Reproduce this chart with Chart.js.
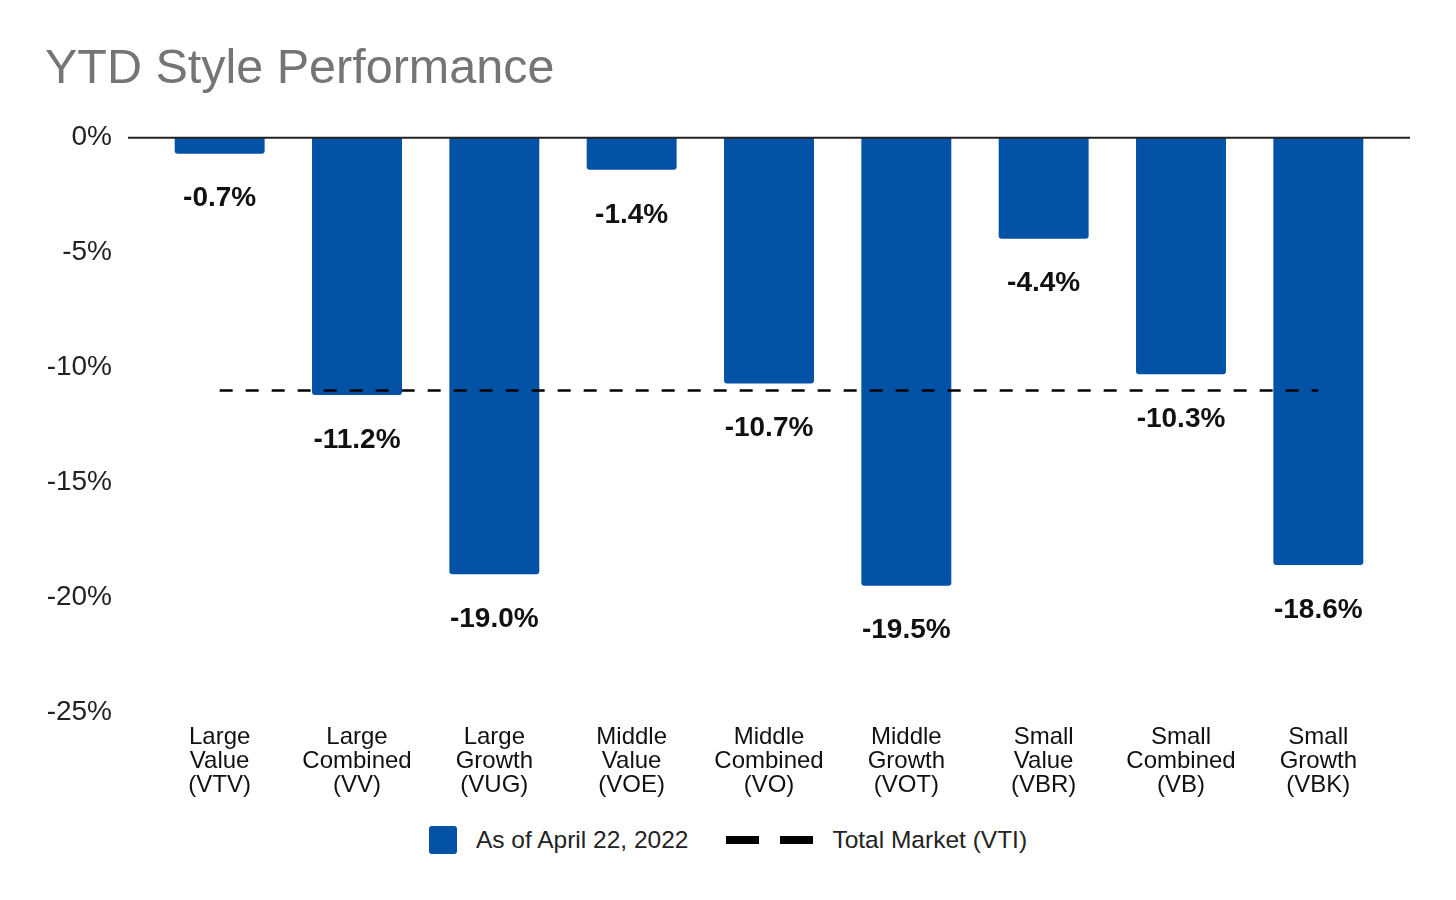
<html><head><title>YTD Style Performance</title>
<style>
    body {
        margin: 0;
        background: #fff;
        font-family: "Liberation Sans", Arial, sans-serif;
    }
    .wrap {
        position: relative;
        width: 1456px;
        height: 900px;
    }
    .chart-box {
        position: absolute;
        left: 0;
        top: 0;
        width: 1456px;
        height: 810px;
    }
    .legend {
        position: absolute;
        left: 0;
        top: 820px;
        width: 1456px;
        height: 40px;
        display: flex;
        justify-content: center;
        align-items: center;
        font-size: 24.5px;
        color: #222;
    }
    .legend .box {
        width: 28px;
        height: 28px;
        border-radius: 3px;
        background: #0452a5;
        margin-right: 19px;
    }
    .legend .dash {
        width: 33px;
        height: 8px;
        background: #000;
    }
</style>
<script src="https://cdn.jsdelivr.net/npm/chart.js"></script>
</head>
<body>
<div class="wrap">
    <div class="chart-box"><canvas id="styleChart"></canvas></div>
    <div class="legend">
        <span class="box"></span>
        <span id="barLegend"></span>
        <span class="dash" style="margin-left:38px"></span>
        <span class="dash" style="margin-left:21px;margin-right:19px"></span>
        <span id="lineLegend"></span>
    </div>
</div>

<script>
// data
const categories = [
    ['Large', 'Value', '(VTV)'],
    ['Large', 'Combined', '(VV)'],
    ['Large', 'Growth', '(VUG)'],
    ['Middle', 'Value', '(VOE)'],
    ['Middle', 'Combined', '(VO)'],
    ['Middle', 'Growth', '(VOT)'],
    ['Small', 'Value', '(VBR)'],
    ['Small', 'Combined', '(VB)'],
    ['Small', 'Growth', '(VBK)']
];
const ytdReturns = [-0.7, -11.2, -19.0, -1.4, -10.7, -19.5, -4.4, -10.3, -18.6];
const totalMarket = [-11.0, -11.0, -11.0, -11.0, -11.0, -11.0, -11.0, -11.0, -11.0];
const yTicks = [0, -5, -10, -15, -20, -25];
const barName = 'As of April 22, 2022';
const lineName = 'Total Market (VTI)';

document.getElementById('barLegend').textContent = barName;
document.getElementById('lineLegend').textContent = lineName;

const FONT = '"Liberation Sans", Arial, sans-serif';

// zero line, a little wider than the plot area
const zeroLine = {
    id: 'zeroLine',
    afterDatasetsDraw(chart) {
        const ctx = chart.ctx;
        const y = chart.scales.y.getPixelForValue(0);
        ctx.save();
        ctx.strokeStyle = '#222';
        ctx.lineWidth = 2;
        ctx.beginPath();
        ctx.moveTo(chart.chartArea.left - 23, y);
        ctx.lineTo(chart.chartArea.right + 23, y);
        ctx.stroke();
        ctx.restore();
    }
};

// value labels under each bar (bars are dataset 1)
const barLabels = {
    id: 'barLabels',
    afterDatasetsDraw(chart) {
        const ctx = chart.ctx;
        const meta = chart.getDatasetMeta(1);
        ctx.save();
        ctx.font = 'bold 28px ' + FONT;
        ctx.fillStyle = '#111';
        ctx.textAlign = 'center';
        ctx.textBaseline = 'middle';
        meta.data.forEach((bar, i) => {
            ctx.fillText(ytdReturns[i].toFixed(1) + '%', bar.x, bar.y + 45);
        });
        ctx.restore();
    }
};

new Chart(document.getElementById('styleChart'), {
    data: {
        labels: categories,
        datasets: [{
            type: 'line',
            label: lineName,
            data: totalMarket,
            borderColor: '#000',
            borderWidth: 2.5,
            borderDash: [13, 13],
            pointRadius: 0,
            fill: false,
            order: 0
        }, {
            type: 'bar',
            label: barName,
            data: ytdReturns,
            backgroundColor: '#0452a5',
            borderRadius: 3,
            categoryPercentage: 1,
            barPercentage: 0.655,
            order: 1
        }]
    },
    options: {
        responsive: true,
        maintainAspectRatio: false,
        animation: false,
        layout: {
            padding: { left: 45, right: 69, top: 0, bottom: 0 }
        },
        scales: {
            x: {
                offset: true,
                grid: { display: false, drawTicks: false },
                border: { display: false },
                ticks: {
                    color: '#111',
                    font: { family: FONT, size: 24, lineHeight: 1.0 },
                    padding: 13,
                    maxRotation: 0,
                    autoSkip: false
                },
                afterFit: (scale) => { scale.height = 98; }
            },
            y: {
                min: -25,
                max: 0,
                grid: { display: false, drawTicks: false },
                border: { display: false },
                afterBuildTicks: (scale) => { scale.ticks = yTicks.map(v => ({ value: v })); },
                ticks: {
                    color: '#222',
                    font: { family: FONT, size: 28 },
                    padding: 39,
                    callback: (v) => v + '%'
                },
                afterFit: (scale) => { scale.width = 106; }
            }
        },
        plugins: {
            legend: { display: false },
            tooltip: { enabled: false },
            title: {
                display: true,
                text: 'YTD Style Performance',
                align: 'start',
                color: '#757575',
                font: { family: FONT, size: 48.5, weight: 'normal', lineHeight: 1.2 },
                padding: { top: 41, bottom: 38.5 }
            }
        }
    },
    plugins: [zeroLine, barLabels]
});
</script>
</body></html>
